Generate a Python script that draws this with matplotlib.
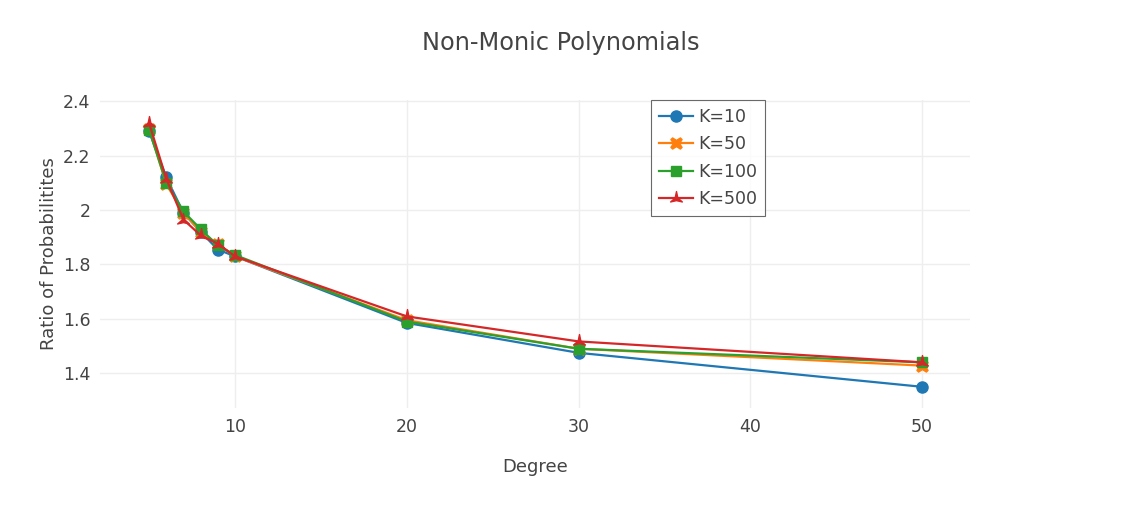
import matplotlib
matplotlib.use("Agg")
from matplotlib import pyplot as plt
from matplotlib.path import Path

degrees = [5, 6, 7, 8, 9, 10, 20, 30, 50]
k10 = [2.29, 2.12, 1.99, 1.92, 1.855, 1.83, 1.585, 1.475, 1.35]
k50 = [2.30, 2.095, 1.99, 1.92, 1.875, 1.83, 1.595, 1.49, 1.428]
k100 = [2.295, 2.10, 1.995, 1.93, 1.87, 1.835, 1.59, 1.49, 1.44]
k500 = [2.32, 2.115, 1.965, 1.907, 1.876, 1.83, 1.609, 1.517, 1.44]

labels = ["K=10", "K=50", "K=100", "K=500"]
colors = ["#1f77b4", "#ff7f0e", "#2ca02c", "#d62728"]

# plotly-like marker shapes
fat_x = Path([(-1, -0.7), (-0.7, -1), (0, -0.55), (0.7, -1), (1, -0.7), (0.55, 0),
              (1, 0.7), (0.7, 1), (0, 0.55), (-0.7, 1), (-1, 0.7), (-0.55, 0), (-1, -0.7)],
             closed=True)
star_tri = Path([(0, 1.3), (0.25, 0.1), (1.1, -0.65), (0, -0.4), (-1.1, -0.65),
                 (-0.25, 0.1), (0, 1.3)], closed=True)
markers = ["o", fat_x, "s", star_tri]
sizes = [8, 8, 7.5, 10]

plt.rcParams['font.family'] = ['DejaVu Sans']
text_color = "#444444"

fig = plt.figure(figsize=(11.21, 5.09), dpi=100)
ax = fig.add_axes([0.0892, 0.1984, 0.7761, 0.6051])

for ys, lab, c, m, s in zip([k10, k50, k100, k500], labels, colors, markers, sizes):
    ax.plot(degrees, ys, color=c, marker=m, markersize=s, linewidth=1.6, label=lab)

ax.set_xlim(2.14, 52.79)
ax.set_ylim(1.272, 2.405)
ax.set_xticks([10, 20, 30, 40, 50])
ax.set_yticks([1.4, 1.6, 1.8, 2.0, 2.2, 2.4])
ax.set_yticklabels(["1.4", "1.6", "1.8", "2", "2.2", "2.4"])
ax.grid(True, color="#eeeeee", linewidth=1)
ax.set_axisbelow(True)
for sp in ax.spines.values():
    sp.set_visible(False)
ax.tick_params(length=0, labelsize=12.5, colors=text_color, pad=7)

ax.set_xlabel("Degree", fontsize=13, color=text_color, labelpad=16)
ax.set_ylabel("Ratio of Probabilitites", fontsize=13, color=text_color, labelpad=3)
fig.suptitle("Non-Monic Polynomials", fontsize=17.3, color=text_color, y=0.94)

leg = ax.legend(loc="upper left", bbox_to_anchor=(0.633, 1.0), borderaxespad=0, fontsize=12.5,
                frameon=True, fancybox=False, borderpad=0.45, handlelength=2.0,
                handletextpad=0.3, labelspacing=0.55)
leg.get_frame().set_edgecolor(text_color)
leg.get_frame().set_linewidth(0.8)
for t in leg.get_texts():
    t.set_color(text_color)

fig.savefig("out.png", dpi=100)
